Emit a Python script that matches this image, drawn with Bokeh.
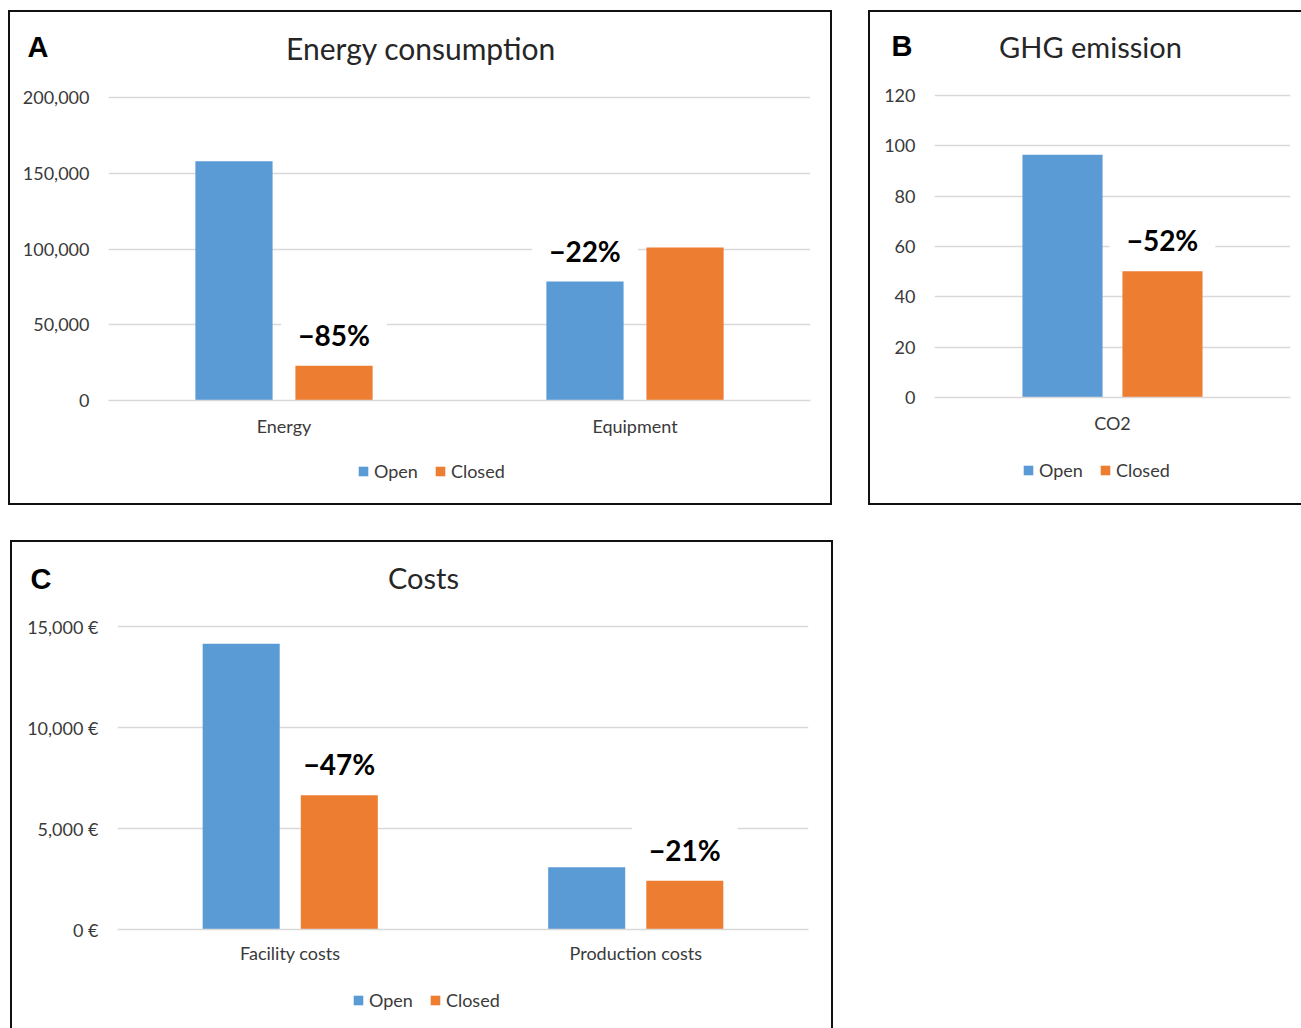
from bokeh.plotting import figure
from bokeh.models import Range1d, FixedTicker, Label, Spacer, Legend, LegendItem
from bokeh.core.properties import value
from bokeh.layouts import column, row
from bokeh.embed import file_html
from bokeh.resources import INLINE

# ---------------- data ----------------
series = ["Open", "Closed"]
series_colors = ["#5b9bd5", "#ed7d31"]

energy_cats = ["Energy", "Equipment"]
energy_open = [158000, 78500]
energy_closed = [23000, 101000]
energy_change = ["\u221285%", "\u221222%"]
energy_change_on = ["Closed", "Open"]
energy_yticks = [0, 50000, 100000, 150000, 200000]
energy_ytick_labels = ["0", "50,000", "100,000", "150,000", "200,000"]

ghg_cats = ["CO2"]
ghg_open = [96.5]
ghg_closed = [50.2]
ghg_change = ["\u221252%"]
ghg_change_on = ["Closed"]
ghg_yticks = [0, 20, 40, 60, 80, 100, 120]
ghg_ytick_labels = ["0", "20", "40", "60", "80", "100", "120"]

cost_cats = ["Facility costs", "Production costs"]
cost_open = [14150, 3080]
cost_closed = [6650, 2410]
cost_change = ["\u221247%", "\u221221%"]
cost_change_on = ["Closed", "Closed"]
cost_yticks = [0, 5000, 10000, 15000]
cost_ytick_labels = ["0 \u20ac", "5,000 \u20ac", "10,000 \u20ac", "15,000 \u20ac"]

FONT = "Lato"
TXT = "#3a3a3a"
BORDER = "2px solid #111111"
HEADER_H = 72


def bare_figure(width, height):
    f = figure(width=width, height=height, output_backend="svg", toolbar_location=None,
               title=None, x_range=Range1d(0, width), y_range=Range1d(height, 0),
               x_axis_type=None, y_axis_type=None, frame_align=False,
               min_border_left=0, min_border_right=0, min_border_top=0, min_border_bottom=0)
    f.outline_line_color = None
    f.border_fill_color = "white"
    f.background_fill_color = "white"
    return f


def make_header(width, title, title_xy, title_size, letter, letter_xy):
    h = bare_figure(width, HEADER_H)
    h.text(x=[title_xy[0]], y=[title_xy[1]], text=[title], text_align="center",
           text_baseline="alphabetic", text_font=value(FONT), text_font_size=title_size,
           text_color="#262626")
    h.text(x=[letter_xy[0]], y=[letter_xy[1]], text=[letter], text_align="left",
           text_baseline="alphabetic", text_font=value("Liberation Sans"),
           text_font_style="bold", text_font_size="29px", text_color="black")
    return h


def make_footer(width, height, legend_loc):
    f = bare_figure(width, height)
    items = []
    for s, c in zip(series, series_colors):
        # zero-size proxy renderer, only used to give the legend its swatch
        proxy = f.vbar(x=[0], top=[0], bottom=[0], width=0, fill_color=c, line_color=None)
        items.append(LegendItem(label=s, renderers=[proxy]))
    lg = Legend(items=items, orientation="horizontal", location=legend_loc,
                padding=0, margin=0, spacing=16, label_standoff=5,
                glyph_width=12, glyph_height=12, border_line_color=None,
                background_fill_alpha=0, label_text_font=FONT,
                label_text_font_size="18px", label_text_color=TXT)
    f.add_layout(lg)
    return f


def make_chart(cats, open_vals, closed_vals, changes, change_on, yticks, ytick_labels,
               y_end, width, height, frame_lrtb, bar_off, bar_w, xstand):
    l, r, t, b = frame_lrtb
    p = figure(width=width, height=height, output_backend="svg", toolbar_location=None,
               title=None, min_border_left=l, min_border_right=r, min_border_top=t,
               min_border_bottom=b, x_range=Range1d(0, len(cats)), y_range=Range1d(0, y_end),
               frame_align=False)
    p.outline_line_color = None
    p.background_fill_color = "white"
    p.border_fill_color = "white"

    centers = [i + 0.5 for i in range(len(cats))]
    vals = {"Open": open_vals, "Closed": closed_vals}
    offs = {"Open": -bar_off, "Closed": bar_off}
    for s, c in zip(series, series_colors):
        p.vbar(x=[x + offs[s] for x in centers], top=vals[s], width=bar_w,
               fill_color=c, line_color=None)

    p.xaxis.ticker = FixedTicker(ticks=centers)
    p.xaxis.major_label_overrides = {x: c for x, c in zip(centers, cats)}
    p.xaxis.axis_line_color = "#d9d9d9"
    p.xaxis.axis_line_width = 1.5
    p.xaxis.major_tick_out = 0
    p.xaxis.major_tick_in = 0
    p.xaxis.minor_tick_out = 0
    p.xaxis.minor_tick_in = 0
    p.xaxis.major_label_standoff = xstand
    p.xaxis.major_label_text_font = FONT
    p.xaxis.major_label_text_font_size = "18px"
    p.xaxis.major_label_text_color = TXT

    p.yaxis.ticker = FixedTicker(ticks=yticks)
    p.yaxis.major_label_overrides = {v: s for v, s in zip(yticks, ytick_labels)}
    p.yaxis.axis_line_color = None
    p.yaxis.major_tick_out = 0
    p.yaxis.major_tick_in = 0
    p.yaxis.minor_tick_out = 0
    p.yaxis.minor_tick_in = 0
    p.yaxis.major_label_standoff = 19
    p.yaxis.major_label_text_font = FONT
    p.yaxis.major_label_text_font_size = "18px"
    p.yaxis.major_label_text_color = TXT

    p.xgrid.visible = False
    p.ygrid.grid_line_color = "#d9d9d9"
    p.ygrid.grid_line_width = 1.5

    for i, (txt, on) in enumerate(zip(changes, change_on)):
        p.add_layout(Label(x=centers[i] + offs[on], y=vals[on][i], y_offset=35, text=txt,
                           text_align="center", text_baseline="alphabetic",
                           text_font=FONT, text_font_style="bold", text_font_size="28px",
                           text_color="black", background_fill_color="white",
                           padding=dict(left=17, right=17, top=10, bottom=2)))
    return p


# Panel A  (content origin at page x=10, y=12)
hA = make_header(820, "Energy consumption", (410.5, 35), "30px", "A", (17, 34))
cA = make_chart(energy_cats, energy_open, energy_closed, energy_change, energy_change_on,
                energy_yticks, energy_ytick_labels, 204000, 820, 361,
                (98, 20, 7, 45), 0.1425, 0.22, 14)
fA = make_footer(820, 58, (347, 21))
panelA = column(hA, cA, fA, spacing=0, styles={"border": BORDER})

# Panel B  (content origin at page x=870, y=12)
hB = make_header(431, "GHG emission", (220, 34), "29px", "B", (21, 33))
cB = make_chart(ghg_cats, ghg_open, ghg_closed, ghg_change, ghg_change_on,
                ghg_yticks, ghg_ytick_labels, 122, 431, 361,
                (64, 11, 6, 48), 0.1404, 0.225, 14)
fB = make_footer(431, 58, (152, 22))
panelB = column(hB, cB, fB, spacing=0,
                styles={"border-top": BORDER, "border-left": BORDER, "border-bottom": BORDER})

# Panel C  (content origin at page x=12, y=542)
hC = make_header(819, "Costs", (411, 35), "29px", "C", (18, 36))
cC = make_chart(cost_cats, cost_open, cost_closed, cost_change, cost_change_on,
                cost_yticks, cost_ytick_labels, 15300, 819, 361,
                (105, 23, 6, 46), 0.142, 0.223, 12)
fC = make_footer(819, 53, (340, 17))
panelC = column(hC, cC, fC, spacing=0,
                styles={"border-top": BORDER, "border-left": BORDER, "border-right": BORDER})

layout = column(
    Spacer(width=10, height=10),
    row(Spacer(width=8, height=10), panelA, Spacer(width=36, height=10), panelB, spacing=0),
    Spacer(width=10, height=35),
    row(Spacer(width=10, height=10), panelC, spacing=0),
    spacing=0,
)

with open("out.html", "w") as f:
    f.write(file_html(layout, INLINE))
